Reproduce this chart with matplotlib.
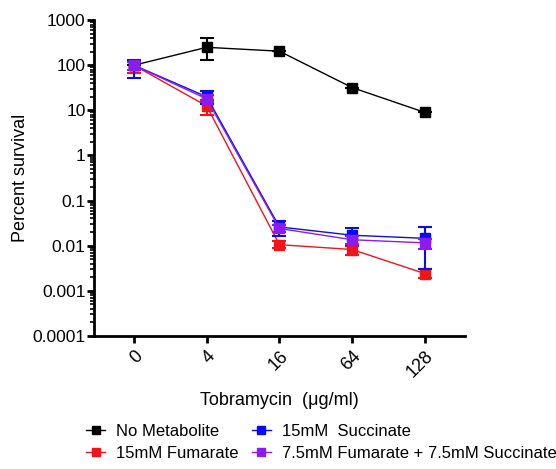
import numpy as np
import matplotlib.pyplot as plt
from matplotlib.lines import Line2D
from matplotlib.ticker import FixedLocator, LogLocator, NullFormatter

plt.rcParams["font.family"] = ["Liberation Sans", "DejaVu Sans"]

# Дані
doses = ["0", "4", "16", "64", "128"]
labels = ["No Metabolite", "15mM Fumarate", "15mM  Succinate",
          "7.5mM Fumarate + 7.5mM Succinate"]
colors = ["black", "#f0141b", "#0a0af5", "#8a1cf0"]

mean_none = [100, 250, 205, 32, 9]
lo_none = [100, 130, 205, 32, 9]
hi_none = [100, 400, 205, 32, 9]

mean_fum = [100, 12.5, 0.0105, 0.0082, 0.0024]
lo_fum = [68, 8, 0.009, 0.0063, 0.0019]
hi_fum = [125, 17, 0.0125, 0.0098, 0.003]

mean_suc = [100, 20, 0.026, 0.017, 0.0145]
lo_suc = [52, 14, 0.016, 0.0105, 0.0031]
hi_suc = [130, 27, 0.036, 0.024, 0.026]

mean_mix = [100, 18, 0.024, 0.0135, 0.0115]
lo_mix = [80, 15, 0.02, 0.011, 0.0086]
hi_mix = [120, 22, 0.028, 0.016, 0.014]

means = [mean_none, mean_fum, mean_suc, mean_mix]
los = [lo_none, lo_fum, lo_suc, lo_mix]
his = [hi_none, hi_fum, hi_suc, hi_mix]

fig = plt.figure(figsize=(5.56, 4.69), dpi=100)
ax = fig.add_axes([0.169, 0.284, 0.667, 0.673])

x = np.arange(len(doses))
order = [0, 1, 3, 2]
for i in order:
    m = np.array(means[i])
    yerr = [m - np.array(los[i]), np.array(his[i]) - m]
    ax.errorbar(x, m, yerr=yerr, color=colors[i], marker="s", markersize=7,
                linewidth=1, elinewidth=1.5, capsize=5, capthick=1.5,
                zorder=3 + i)

ax.set_yscale("log")
ax.set_ylim(1e-4, 1e3)
ax.set_xlim(-0.55, 4.55)
ax.yaxis.set_major_locator(FixedLocator([1e-4, 1e-3, 1e-2, 1e-1, 1, 10, 100, 1000]))
ax.set_yticklabels(["0.0001", "0.001", "0.01", "0.1", "1", "10", "100", "1000"])
ax.yaxis.set_minor_locator(LogLocator(base=10, subs=np.arange(2, 10), numticks=20))
ax.yaxis.set_minor_formatter(NullFormatter())
ax.set_xticks(x)
ax.set_xticklabels(doses, rotation=45, ha="right", rotation_mode="anchor")

for s in ["top", "right"]:
    ax.spines[s].set_visible(False)
for s in ["left", "bottom"]:
    ax.spines[s].set_linewidth(2)
ax.tick_params(axis="both", which="major", width=2, length=5)
ax.tick_params(axis="y", labelsize=12.5, pad=1)
ax.tick_params(axis="x", labelsize=13)
ax.tick_params(axis="y", which="minor", width=1.2, length=3)

ax.set_ylabel("Percent survival", fontsize=13)
ax.yaxis.set_label_coords(-0.175, 0.5)
ax.set_xlabel("Tobramycin  (\u03bcg/ml)", fontsize=13, labelpad=8)

handles = [Line2D([], [], color=c, marker="s", markersize=6, linewidth=1)
           for c in colors]
ax.legend(handles, labels, ncol=2, frameon=False,
          loc="upper center", bbox_to_anchor=(0.614, -0.28), fontsize=12,
          handlelength=1.1, columnspacing=0.8, handletextpad=0.7,
          labelspacing=0.4, borderaxespad=0, borderpad=0)

fig.savefig("out.png", dpi=100)
